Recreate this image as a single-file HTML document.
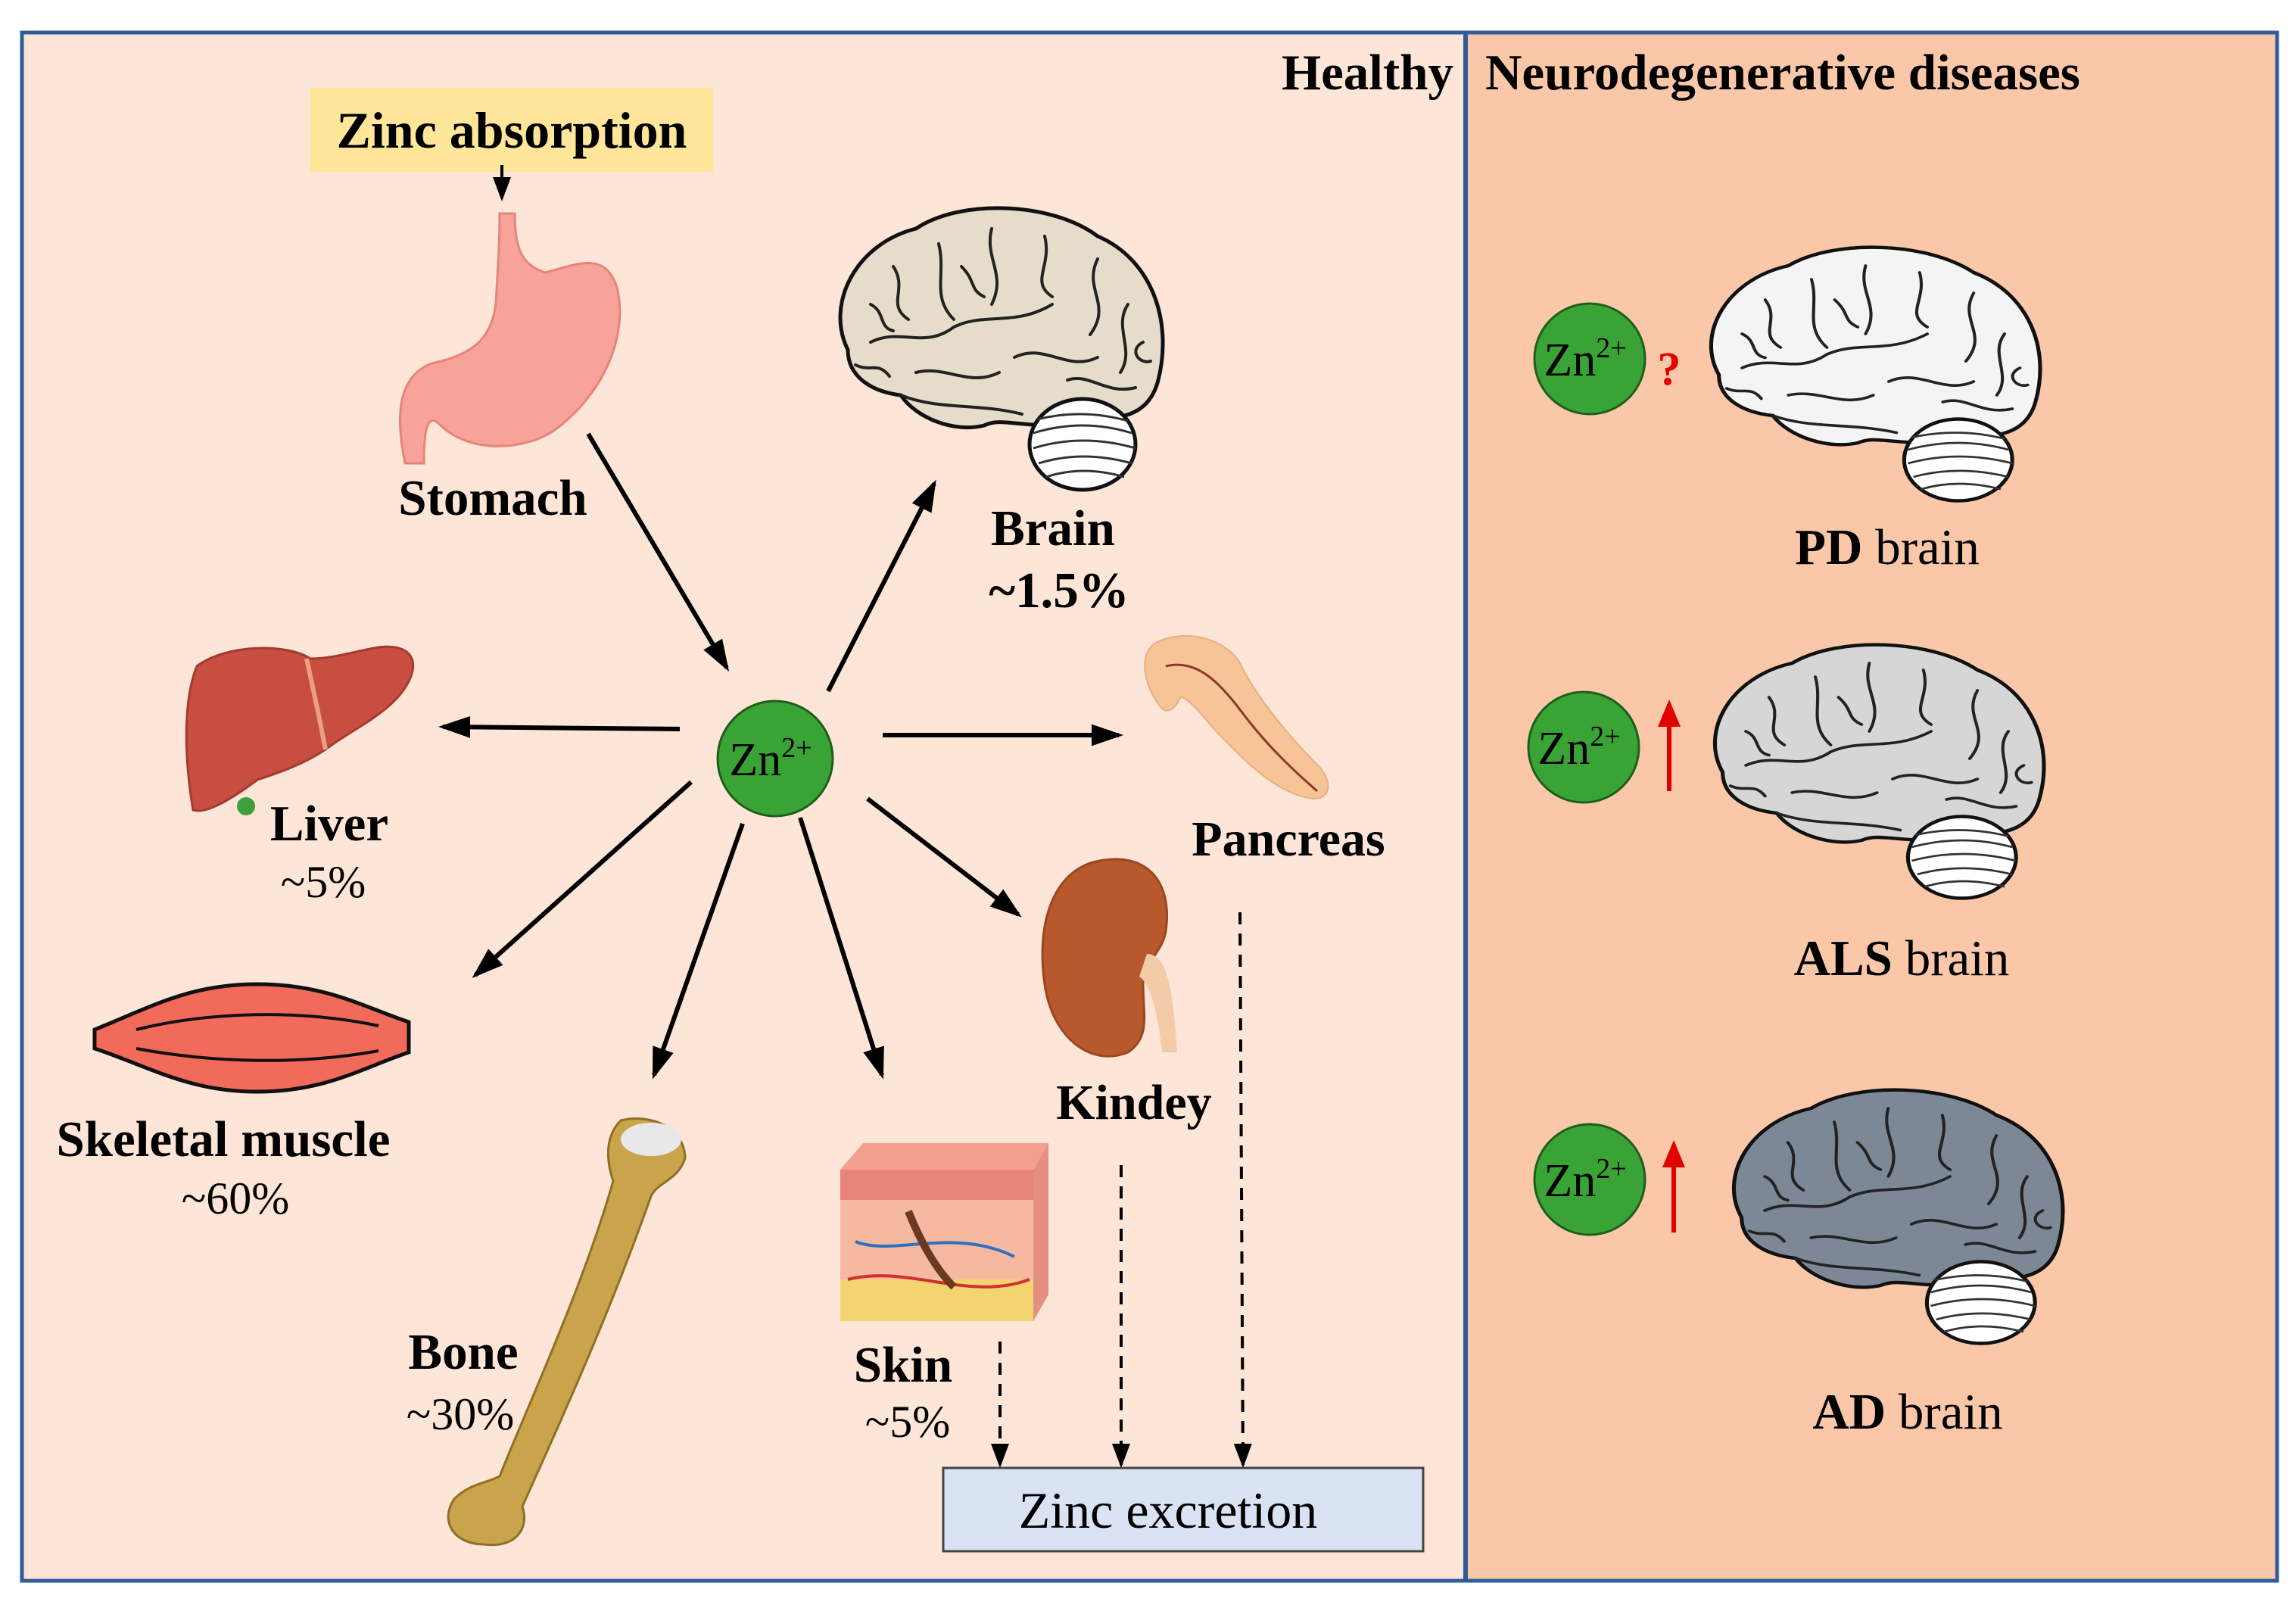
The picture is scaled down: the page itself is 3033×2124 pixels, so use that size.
<!DOCTYPE html>
<html><head><meta charset="utf-8"><style>
html,body{margin:0;padding:0;background:#fff;}
svg{display:block;}
text{font-family:"Liberation Serif",serif;}
</style></head><body>
<svg width="3033" height="2124" viewBox="0 0 3033 2124" xmlns="http://www.w3.org/2000/svg">
<defs>
<marker id="ah" markerWidth="7" markerHeight="6" refX="6" refY="3" orient="auto" markerUnits="strokeWidth">
<path d="M0,0.6 L7,3 L0,5.4 Z" fill="#000"/></marker>
<marker id="ah2" markerWidth="8" markerHeight="8" refX="7" refY="4" orient="auto" markerUnits="strokeWidth">
<path d="M0,1 L8,4 L0,7 Z" fill="#000"/></marker>
<marker id="rh" markerWidth="6" markerHeight="6" refX="5" refY="3" orient="auto" markerUnits="strokeWidth">
<path d="M0,0.5 L6,3 L0,5.5 Z" fill="#e00000"/></marker>
<g id="brain">
<path d="M30,200 C0,140 40,60 120,40 C180,0 300,5 360,50 C430,80 460,160 440,240 C430,280 400,290 370,290 L300,300 C250,300 230,290 210,300 C170,310 120,290 100,260 C60,255 30,235 30,200 Z" stroke="#111" stroke-width="5"/>
<ellipse cx="340" cy="325" rx="70" ry="60" fill="#fff" stroke="#111" stroke-width="5"/>
<g stroke="#333" stroke-width="3" fill="none">
<path d="M275,310 Q340,290 405,310"/><path d="M275,330 Q340,310 410,330"/><path d="M282,350 Q340,332 405,350"/><path d="M292,368 Q340,352 395,368"/><path d="M280,292 Q340,277 400,294"/>
</g>
<g stroke="#222" stroke-width="4" fill="none" stroke-linecap="round">
<path d="M60,190 C100,170 130,200 170,170 C210,150 250,170 300,140"/>
<path d="M150,60 C160,100 140,130 170,160"/>
<path d="M220,40 C210,80 240,100 220,140"/>
<path d="M290,50 C300,90 270,110 300,130"/>
<path d="M360,80 C340,120 380,140 350,180"/>
<path d="M400,140 C380,170 410,200 390,230"/>
<path d="M90,90 C110,120 80,140 110,160"/>
<path d="M60,140 C80,150 70,170 90,175"/>
<path d="M120,230 C160,220 190,250 230,230"/>
<path d="M250,210 C290,190 320,230 360,210"/>
<path d="M180,90 C200,110 190,120 210,130"/>
<path d="M320,240 C350,230 370,260 410,250"/>
<path d="M100,260 C150,280 200,270 260,285"/>
<path d="M40,220 C60,230 70,215 85,235"/>
<path d="M420,190 C400,200 415,220 430,215"/>
</g>
</g>
</defs>

<rect x="29" y="43" width="1905" height="2045" fill="#FDE5D7"/>
<rect x="1938" y="43" width="1070" height="2045" fill="#FAC8A8"/>
<rect x="29" y="43" width="2979" height="2045" fill="none" stroke="#2E5C9A" stroke-width="5"/>
<line x1="1936" y1="43" x2="1936" y2="2088" stroke="#2E5C9A" stroke-width="6"/>

<text x="1920" y="118" font-size="67" font-weight="bold" text-anchor="end">Healthy</text>
<text x="1962" y="118" font-size="67" font-weight="bold">Neurodegenerative diseases</text>

<rect x="410" y="116" width="532" height="111" fill="#FFE699"/>
<text x="676" y="195" font-size="68" font-weight="bold" text-anchor="middle">Zinc absorption</text>
<line x1="663" y1="218" x2="663" y2="262" stroke="#000" stroke-width="4" marker-end="url(#ah2)"/>

<path d="M660,282 L680,282 C680,330 690,350 720,360 C760,350 800,330 815,380 C830,440 800,520 730,570 C690,595 620,600 580,560 C560,540 560,590 560,612 L535,612 C525,560 520,500 570,480 C620,470 650,450 655,400 C658,350 660,320 660,282 Z" fill="#F7A399" stroke="#E8837A" stroke-width="3"/>
<text x="651" y="680" font-size="67" font-weight="bold" text-anchor="middle">Stomach</text>

<use href="#brain" transform="translate(1090,262) scale(1.0,1.0)" fill="#E6DCCB"/>
<text x="1391" y="720" font-size="67" font-weight="bold" text-anchor="middle">Brain</text>
<text x="1399" y="802" font-size="67" font-weight="bold" text-anchor="middle">~1.5%</text>

<path d="M260,880 C300,850 380,850 410,870 C440,870 470,860 500,855 C540,850 555,870 540,900 C520,940 470,960 430,990 C400,1010 370,1020 340,1030 C300,1060 270,1075 255,1070 C245,1010 240,930 260,880 Z" fill="#C84E41" stroke="#A33A30" stroke-width="3"/>
<path d="M405,870 L420,940 L430,990" stroke="#E8A080" stroke-width="6" fill="none"/>
<circle cx="325" cy="1065" r="12" fill="#3CA03C"/>
<text x="435" y="1110" font-size="67" font-weight="bold" text-anchor="middle">Liver</text>
<text x="427" y="1185" font-size="60" text-anchor="middle">~5%</text>

<path d="M1525,850 C1560,830 1620,840 1640,880 C1660,920 1700,970 1740,1010 C1760,1030 1760,1055 1735,1055 C1690,1050 1650,1010 1620,980 C1590,950 1580,930 1560,920 C1550,940 1540,945 1530,930 C1510,900 1505,865 1525,850 Z" fill="#F6C496" stroke="#E9AE7F" stroke-width="2"/>
<path d="M1540,880 C1580,870 1610,900 1640,940 C1670,980 1700,1010 1740,1045" stroke="#8A3A2A" stroke-width="3" fill="none"/>
<text x="1702" y="1130" font-size="66" font-weight="bold" text-anchor="middle">Pancreas</text>

<path d="M1440,1140 C1510,1120 1550,1160 1540,1230 C1535,1260 1510,1270 1510,1300 C1510,1340 1520,1370 1490,1390 C1440,1410 1390,1370 1380,1300 C1370,1230 1385,1160 1440,1140 Z" fill="#B8592D" stroke="#9A4620" stroke-width="3"/>
<path d="M1515,1260 C1545,1260 1550,1320 1555,1390 L1535,1390 C1530,1340 1520,1300 1505,1290 Z" fill="#F3CBA6"/>
<text x="1498" y="1478" font-size="66" font-weight="bold" text-anchor="middle">Kindey</text>

<path d="M125,1360 C200,1330 250,1300 340,1300 C430,1300 480,1330 540,1350 L540,1390 C480,1410 430,1442 340,1442 C250,1442 200,1410 125,1385 Z" fill="#F26A5A" stroke="#111" stroke-width="5"/>
<path d="M180,1360 C260,1340 380,1330 500,1355 M180,1385 C260,1400 380,1410 500,1388" stroke="#111" stroke-width="4" fill="none"/>
<text x="295" y="1527" font-size="67" font-weight="bold" text-anchor="middle">Skeletal muscle</text>
<text x="311" y="1603" font-size="60" text-anchor="middle">~60%</text>

<path d="M820,1480 C860,1470 905,1490 905,1530 C895,1560 870,1560 860,1580 C800,1750 730,1900 690,1990 C700,2020 680,2045 640,2040 C600,2040 580,2010 600,1980 C620,1960 640,1960 660,1950 C700,1850 770,1700 810,1560 C800,1530 800,1500 820,1480 Z" fill="#C9A44A" stroke="#8E6F25" stroke-width="3"/>
<ellipse cx="860" cy="1505" rx="40" ry="22" fill="#E8E8E8"/>
<text x="612" y="1808" font-size="67" font-weight="bold" text-anchor="middle">Bone</text>
<text x="608" y="1888" font-size="60" text-anchor="middle">~30%</text>

<rect x="1110" y="1545" width="255" height="200" fill="#F5B8A0"/>
<rect x="1110" y="1545" width="255" height="40" fill="#E8847A"/>
<rect x="1110" y="1690" width="255" height="55" fill="#F4D470"/>
<path d="M1110,1545 L1140,1510 L1385,1510 L1365,1545 Z" fill="#F3A090"/>
<path d="M1365,1545 L1385,1510 L1385,1710 L1365,1745 Z" fill="#E49080"/>
<path d="M1130,1640 C1180,1660 1260,1620 1340,1660" stroke="#3070C0" stroke-width="4" fill="none"/>
<path d="M1120,1690 C1200,1670 1280,1720 1360,1690" stroke="#D03030" stroke-width="4" fill="none"/>
<path d="M1200,1600 C1220,1650 1240,1680 1260,1700" stroke="#6A3A20" stroke-width="10" fill="none"/>
<text x="1193" y="1825" font-size="67" font-weight="bold" text-anchor="middle">Skin</text>
<text x="1199" y="1898" font-size="60" text-anchor="middle">~5%</text>

<circle cx="1024" cy="1002" r="76" fill="#3AA335" stroke="#1E5E1C" stroke-width="3"/>
<text x="1018" y="1024" font-size="62" text-anchor="middle">Zn<tspan font-size="38" dy="-24">2+</tspan></text>

<g stroke="#000" stroke-width="6" fill="none">
<line x1="777" y1="573" x2="960" y2="882" marker-end="url(#ah)"/>
<line x1="1094" y1="913" x2="1234" y2="639" marker-end="url(#ah)"/>
<line x1="898" y1="963" x2="585" y2="960" marker-end="url(#ah)"/>
<line x1="1166" y1="971" x2="1478" y2="971" marker-end="url(#ah)"/>
<line x1="913" y1="1033" x2="628" y2="1288" marker-end="url(#ah)"/>
<line x1="981" y1="1088" x2="864" y2="1420" marker-end="url(#ah)"/>
<line x1="1057" y1="1080" x2="1165" y2="1420" marker-end="url(#ah)"/>
<line x1="1146" y1="1055" x2="1345" y2="1208" marker-end="url(#ah)"/>
</g>
<g stroke="#000" stroke-width="4" stroke-dasharray="16,12" fill="none">
<line x1="1321" y1="1772" x2="1321" y2="1935" marker-end="url(#ah2)"/>
<line x1="1481" y1="1539" x2="1481" y2="1935" marker-end="url(#ah2)"/>
<line x1="1638" y1="1205" x2="1642" y2="1935" marker-end="url(#ah2)"/>
</g>

<rect x="1246" y="1939" width="634" height="110" fill="#DAE3F3" stroke="#444" stroke-width="3"/>
<text x="1543" y="2018" font-size="68" text-anchor="middle">Zinc excretion</text>

<use href="#brain" transform="translate(2240,315) scale(1.02,0.9)" fill="#F4F4F4"/>
<circle cx="2100" cy="474" r="73" fill="#3AA335" stroke="#1E5E1C" stroke-width="3"/>
<text x="2094" y="496" font-size="62" text-anchor="middle">Zn<tspan font-size="38" dy="-24">2+</tspan></text>
<text x="2205" y="508" font-size="62" font-weight="bold" fill="#E00000" text-anchor="middle">?</text>
<text x="2493" y="745" font-size="67" text-anchor="middle"><tspan font-weight="bold">PD</tspan> brain</text>

<use href="#brain" transform="translate(2245,840) scale(1.02,0.9)" fill="#D6D6D6"/>
<circle cx="2092" cy="987" r="73" fill="#3AA335" stroke="#1E5E1C" stroke-width="3"/>
<text x="2086" y="1009" font-size="62" text-anchor="middle">Zn<tspan font-size="38" dy="-24">2+</tspan></text>
<line x1="2205" y1="1045" x2="2205" y2="930" stroke="#e00000" stroke-width="6" marker-end="url(#rh)"/>
<text x="2512" y="1288" font-size="67" text-anchor="middle"><tspan font-weight="bold">ALS</tspan> brain</text>

<use href="#brain" transform="translate(2270,1428) scale(1.02,0.9)" fill="#7D8896"/>
<circle cx="2100" cy="1558" r="73" fill="#3AA335" stroke="#1E5E1C" stroke-width="3"/>
<text x="2094" y="1580" font-size="62" text-anchor="middle">Zn<tspan font-size="38" dy="-24">2+</tspan></text>
<line x1="2211" y1="1628" x2="2211" y2="1512" stroke="#e00000" stroke-width="6" marker-end="url(#rh)"/>
<text x="2520" y="1887" font-size="67" text-anchor="middle"><tspan font-weight="bold">AD</tspan> brain</text>
</svg>
</body></html>
